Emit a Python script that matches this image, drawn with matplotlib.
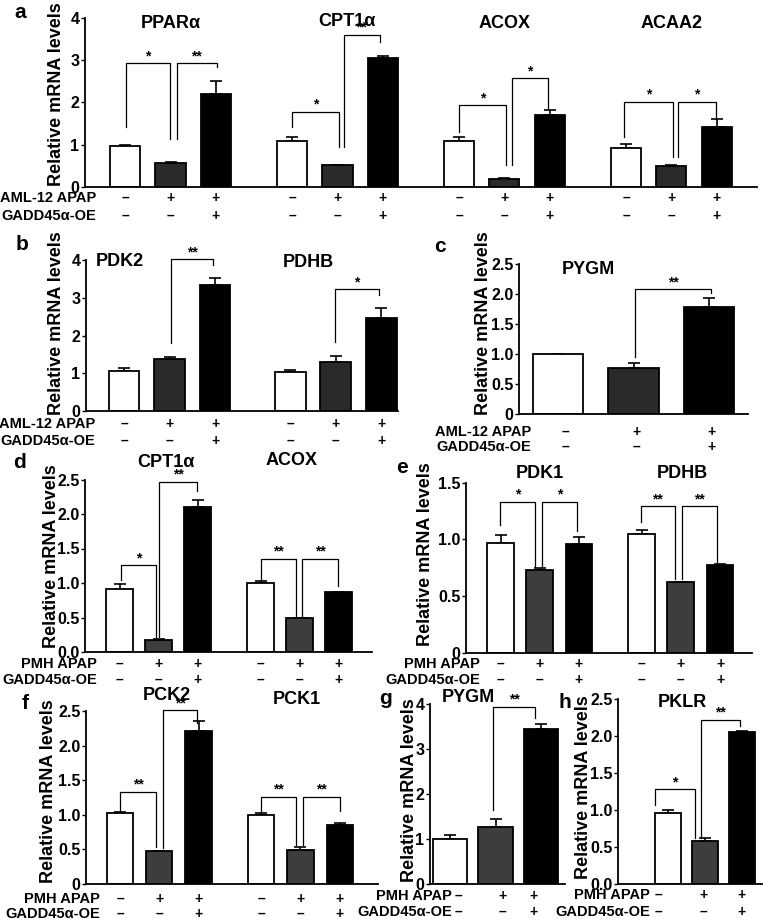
import numpy as np
import matplotlib
matplotlib.use('Agg')
import matplotlib.pyplot as plt
import matplotlib.transforms as mtransforms

plt.rcParams['font.family'] = ['Liberation Sans', 'DejaVu Sans']
plt.rcParams['font.weight'] = 'bold'

W, H = 763, 922

# ---- data (relative mRNA levels, mean and upper error) ----
apap_row = ['–', '+', '+']
oe_row = ['–', '–', '+']

genes_a = ['PPARα', 'CPT1α', 'ACOX', 'ACAA2']
vals_a = [[0.97, 0.57, 2.20], [1.10, 0.52, 3.05], [1.10, 0.20, 1.70], [0.93, 0.49, 1.42]]
errs_a = [[0.03, 0.03, 0.30], [0.08, 0.01, 0.05], [0.08, 0.01, 0.12], [0.08, 0.03, 0.18]]

genes_b = ['PDK2', 'PDHB']
vals_b = [[1.07, 1.37, 3.33], [1.04, 1.30, 2.47]]
errs_b = [[0.08, 0.07, 0.18], [0.04, 0.16, 0.26]]

genes_c = ['PYGM']
vals_c = [[1.00, 0.76, 1.79]]
errs_c = [[0.00, 0.085, 0.14]]

genes_d = ['CPT1α', 'ACOX']
vals_d = [[0.91, 0.18, 2.10], [1.00, 0.49, 0.87]]
errs_d = [[0.08, 0.01, 0.11], [0.03, 0.01, 0.00]]

genes_e = ['PDK1', 'PDHB']
vals_e = [[0.965, 0.73, 0.96], [1.044, 0.626, 0.773]]
errs_e = [[0.075, 0.02, 0.06], [0.035, 0.00, 0.01]]

genes_f = ['PCK2', 'PCK1']
vals_f = [[1.02, 0.47, 2.21], [0.99, 0.49, 0.85]]
errs_f = [[0.02, 0.00, 0.14], [0.03, 0.05, 0.03]]

genes_g = ['PYGM']
vals_g = [[1.00, 1.26, 3.44]]
errs_g = [[0.09, 0.18, 0.12]]

genes_h = ['PKLR']
vals_h = [[0.955, 0.585, 2.06]]
errs_h = [[0.05, 0.03, 0.01]]

# significance brackets: x left, x right (bar units), top, left end, right end, label
sig_a = [(0.02, 0.99, 2.93, 1.42, 1.14, '*'), (1.14, 2.02, 2.93, 1.14, 2.84, '**'),
         (3.67, 4.70, 1.78, 1.42, 0.95, '*'), (4.81, 5.60, 3.60, 0.95, 3.43, '**'),
         (7.34, 8.37, 1.94, 1.30, 0.52, '*'), (8.51, 9.30, 2.58, 0.52, 1.87, '*'),
         (10.97, 12.04, 2.02, 1.18, 0.71, '*'), (12.15, 12.99, 2.02, 0.71, 1.60, '*')]
sig_b = [(1.03, 1.96, 4.02, 1.80, 3.86, '**'), (4.64, 5.60, 3.23, 1.83, 3.07, '*')]
sig_c = [(1.02, 2.03, 2.08, 0.955, 2.01, '**')]
sig_d = [(0.04, 0.94, 1.26, 1.04, 0.22, '*'), (1.01, 1.99, 2.47, 0.22, 2.33, '**'),
         (3.63, 4.53, 1.35, 1.04, 0.52, '**'), (4.68, 5.60, 1.35, 0.52, 0.95, '**')]
sig_e = [(-0.01, 0.88, 1.33, 1.126, 0.76, '*'), (1.06, 1.95, 1.33, 0.76, 1.07, '*'),
         (3.58, 4.45, 1.29, 1.155, 0.65, '**'), (4.63, 5.52, 1.29, 0.65, 0.80, '**')]
sig_f = [(0.00, 0.92, 1.33, 1.05, 0.54, '**'), (1.09, 1.96, 2.51, 0.52, 2.33, '**'),
         (3.59, 4.48, 1.26, 1.04, 0.56, '**'), (4.66, 5.60, 1.26, 0.56, 1.06, '**')]
sig_g = [(0.95, 1.87, 3.94, 1.64, 3.69, '**')]
sig_h = [(-0.35, 0.73, 1.28, 1.07, 0.62, '*'), (0.89, 1.95, 2.22, 0.62, 2.13, '**')]

fig = plt.figure(figsize=(W / 100, H / 100), dpi=100)


def fy(y):
    return 1 - y / H


def panel(letter, letter_xy, box, first, unit, gap, width, ymax, yticks, yticklabels,
          genes, vals, errs, sigs, title_pos, ylab_xy, cell, rowlab_x, rows_y, gray,
          sign_dx=(0, 0, 0)):
    x0, x1, ytop, ybot = box
    ax = fig.add_axes([x0 / W, fy(ybot), (x1 - x0) / W, (ybot - ytop) / H])
    ax.set_xlim((x0 - first) / unit, (x1 - first) / unit)
    ax.set_ylim(0, ymax)
    blend = mtransforms.blended_transform_factory(ax.transData, fig.transFigure)
    colors = ['white', gray, 'black']
    for g in range(len(genes)):
        pos = g * gap + np.arange(3)
        ax.bar(pos, vals[g], width=width, color=colors, edgecolor='black', linewidth=1.3, zorder=2)
        ax.errorbar(pos, vals[g], yerr=[np.zeros(3), errs[g]], fmt='none', ecolor='black',
                    elinewidth=1.2, capsize=4, capthick=1.2, zorder=1)
        tx, ty = title_pos[g]
        ax.text(g * gap + tx, fy(ty), genes[g], transform=blend, ha='center', va='center',
                fontsize=13, fontweight='bold')
        for i in range(3):
            sx = pos[i] + sign_dx[i] / unit
            ax.text(sx, fy(rows_y[0]), apap_row[i], transform=blend, ha='center', va='center',
                    fontsize=10, fontweight='bold')
            ax.text(sx, fy(rows_y[1]), oe_row[i], transform=blend, ha='center', va='center',
                    fontsize=10, fontweight='bold')
    for xl, xr, top, le, re, lab in sigs:
        ax.plot([xl, xl, xr, xr], [le, top, top, re], color='black', lw=0.9, clip_on=False, zorder=3)
        ax.text((xl + xr) / 2, top, lab, ha='center', va='bottom', fontsize=10, fontweight='bold')
    ax.set_yticks(yticks)
    ax.set_yticklabels(yticklabels)
    ax.set_xticks([])
    ax.tick_params(axis='y', direction='out', length=3, width=1, pad=1, labelsize=11.5)
    for s in ['top', 'right']:
        ax.spines[s].set_visible(False)
    for s in ['left', 'bottom']:
        ax.spines[s].set_linewidth(1.3)
    ax.patch.set_alpha(0)
    fig.text(ylab_xy[0] / W, fy(ylab_xy[1]), 'Relative mRNA levels', rotation=90,
             ha='center', va='center', fontsize=13, fontweight='bold')
    fig.text(rowlab_x / W, fy(rows_y[0]), cell + ' APAP', ha='right', va='center',
             fontsize=10.5, fontweight='bold')
    fig.text(rowlab_x / W, fy(rows_y[1]), 'GADD45α-OE', ha='right', va='center',
             fontsize=10.5, fontweight='bold')
    fig.text(letter_xy[0] / W, fy(letter_xy[1]), letter, ha='center', va='center',
             fontsize=15, fontweight='bold')
    return ax


dark = '#2a2a2a'
mid = '#3d3d3d'

panel('a', (20, 13), (85, 757, 18, 187), 125, 45.5, 3.67, 0.66, 4,
      [0, 1, 2, 3, 4], ['0', '1', '2', '3', '4'], genes_a, vals_a, errs_a, sig_a,
      [(1, 24), (1.2, 22), (1.0, 24), (1.0, 24)], (57, 94), 'AML-12', 96, (198, 216), dark)

panel('b', (22, 245), (86, 398, 260, 411), 124, 45.5, 3.65, 0.68, 4,
      [0, 1, 2, 3, 4], ['0', '1', '2', '3', '4'], genes_b, vals_b, errs_b, sig_b,
      [(-0.1, 261), (0.4, 262)], (57, 323), 'AML-12', 95, (424, 441), dark)

panel('c', (440, 247), (519, 748, 264, 414), 558, 75.5, 0, 0.675, 2.5,
      [0, 0.5, 1.0, 1.5, 2.0, 2.5], ['0', '0.5', '1.0', '1.5', '2.0', '2.5'],
      genes_c, vals_c, errs_c, sig_c, [(0.4, 270)], (483, 323), 'AML-12', 531, (432, 447), dark,
      sign_dx=(7, 3, 3))

panel('d', (20, 463), (85, 372, 479.5, 652), 119.5, 39, 3.62, 0.68, 2.5,
      [0, 0.5, 1.0, 1.5, 2.0, 2.5], ['0.0', '0.5', '1.0', '1.5', '2.0', '2.5'],
      genes_d, vals_d, errs_d, sig_d, [(1.2, 462), (0.8, 460)], (52, 556), 'PMH', 97, (664, 680), mid)

panel('e', (402, 467), (466, 752, 482.6, 652.7), 500.5, 39.2, 3.6, 0.68, 1.5,
      [0, 0.5, 1.0, 1.5], ['0', '0.5', '1.0', '1.5'],
      genes_e, vals_e, errs_e, sig_e, [(1.0, 473), (1.05, 473)], (425, 554), 'PMH', 480, (664, 680), mid)

panel('f', (25, 703), (86, 378, 711, 884), 120, 39.3, 3.59, 0.67, 2.5,
      [0, 0.5, 1.0, 1.5, 2.0, 2.5], ['0', '0.5', '1.0', '1.5', '2.0', '2.5'],
      genes_f, vals_f, errs_f, sig_f, [(1.2, 695), (0.9, 699)], (49, 791), 'PMH', 100, (899, 914), mid)

panel('g', (385, 698), (430, 565, 704, 884), 450, 45.5, 0, 0.75, 4,
      [0, 1, 2, 3, 4], ['0', '1', '2', '3', '4'],
      genes_g, vals_g, errs_g, sig_g, [(0.4, 697)], (409, 790), 'PMH', 452, (896, 912), mid,
      sign_dx=(8, 7, -7))

panel('h', (565, 702), (618, 762, 699, 884), 668, 37, 0, 0.68, 2.5,
      [0, 0.5, 1.0, 1.5, 2.0, 2.5], ['0.0', '0.5', '1.0', '1.5', '2.0', '2.5'],
      genes_h, vals_h, errs_h, sig_h, [(0.4, 702)], (584, 787), 'PMH', 650, (895, 912), mid,
      sign_dx=(-10, -2, 0))

fig.savefig('out.png', dpi=100)
